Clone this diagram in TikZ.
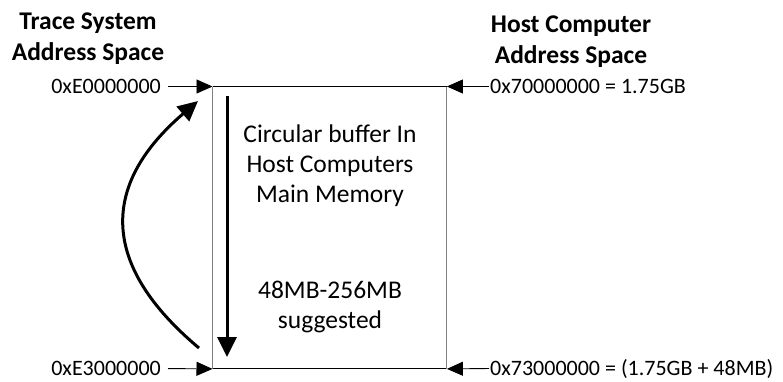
\documentclass[tikz,border=0pt]{standalone}
\usepackage{fontspec}
\setmainfont{Carlito}
\usetikzlibrary{arrows.meta}
\tikzset{
  lbl/.style={inner sep=0pt, text height=13pt, text depth=0pt, font=\fontsize{22}{26}\selectfont},
  title/.style={inner sep=0pt, align=center, font=\fontsize{25.5}{31}\selectfont\bfseries},
  inner/.style={inner sep=0pt, align=center, font=\fontsize{25.5}{30}\selectfont},
  ptr/.style={line width=0.9pt, -{Triangle[length=16pt,width=14pt]}},
  flow/.style={line width=3pt, -{Triangle[length=20pt,width=19pt]}},
}
\begin{document}
\begin{tikzpicture}[x=1pt,y=-1pt]
\useasboundingbox (0,0) rectangle (783,381);

% memory window
\node[minimum width=234pt, minimum height=282pt, inner sep=0pt, anchor=north west] (buf) at (212.5,86.5) {};
\draw[line width=0.9pt] (buf.north west) -- (buf.north east);
\draw[line width=0.9pt] (buf.south west) -- (buf.south east);
\draw[line width=0.9pt, gray] (buf.north west) -- (buf.south west);
\draw[line width=0.9pt, gray] (buf.north east) -- (buf.south east);

% headings
\node[title] (tsys) at (88,39) {Trace System\\Address Space};
\node[title] (hsys) at (571,42) {Host Computer\\Address Space};

% address labels
\node[lbl, anchor=east] (etop) at (161,86.5) {0xE0000000};
\node[lbl, anchor=east] (ebot) at (161,368.5) {0xE3000000};
\node[lbl, anchor=west] (htop) at (490,86.5) {0x70000000 = 1.75GB};
\node[lbl, anchor=west] (hbot) at (490,368.5) {0x73000000 = (1.75GB + 48MB)};

\draw[ptr, shorten <=7pt] (etop.east) -- (buf.north west);
\draw[ptr, shorten <=7pt] (ebot.east) -- (buf.south west);
\draw[ptr, shorten <=1pt] (htop.west) -- (buf.north east);
\draw[ptr, shorten <=1pt] (hbot.west) -- (buf.south east);

% contents
\node[inner] (desc) at (330,166) {Circular buffer In\\Host Computers\\Main Memory};
\node[inner] (size) at (330,307) {48MB-256MB\\suggested};

% fill direction and wrap-around
\coordinate (fillfrom) at (227,96);
\coordinate (fillto) at (227,357);
\draw[flow] (fillfrom) -- (fillto);

\coordinate (wrapfrom) at (199,348);
\coordinate (wrapto) at (198,101);
\draw[flow] (wrapfrom) .. controls (100,265) and (100,185) .. (wrapto);
\end{tikzpicture}
\end{document}
